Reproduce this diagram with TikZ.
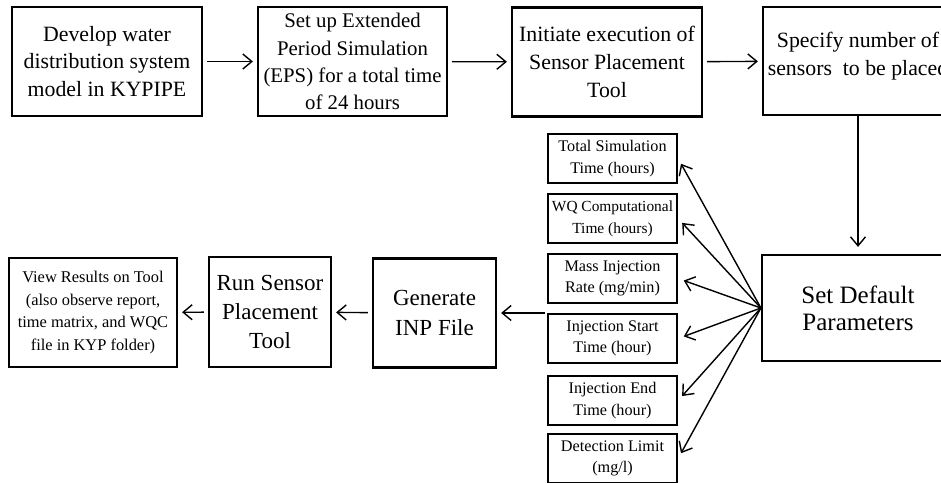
\documentclass[tikz,border=0pt]{standalone}
\usepackage{fontspec}
\setmainfont{Liberation Serif}
\usetikzlibrary{
  arrows.meta,
  positioning
}

\begin{document}
\begin{tikzpicture}[
    x=0.5pt, y=-0.5pt,
    >={Straight Barb[length=4.5pt,width=7.5pt]},
    caixa/.style={draw, line width=1.1pt, align=center, inner sep=1pt, fill=white},
    grande/.style={caixa, minimum width=95pt, minimum height=54.5pt,
      font=\fontsize{10.9}{13.8}\selectfont},
    media/.style={caixa, minimum width=61.5pt, minimum height=54.5pt,
      font=\fontsize{11.5}{14.6}\selectfont},
    param/.style={caixa, minimum width=64.5pt, minimum height=24.5pt,
      font=\fontsize{8.1}{10.8}\selectfont},
    seta/.style={->, line width=0.7pt, shorten <=2pt, shorten >=2pt}
    ]

    \useasboundingbox (0,0) rectangle (941,482);
    \clip (0,0) rectangle (941,482);

    % linha superior
    \node[grande] (modelo) at (107,61.5)
    {Develop water\\distribution system\\model in KYPIPE};

    \node[grande, minimum width=94.5pt,
      font=\fontsize{10.4}{13.6}\selectfont] (eps) at (352.5,61.5)
    {Set up Extended\\Period Simulation\\(EPS) for a total time\\of 24 hours};

    \node[grande] (inicia) at (607,62)
    {Initiate execution of\\Sensor Placement\\Tool};

    \node[grande, minimum height=54pt] (sensores) at (858,61)
    {Specify number of\\sensors\ \ to be placed\\[-6.5pt]{}};

    % parametros
    \node[grande, minimum width=96pt, minimum height=53pt,
      font=\fontsize{12.5}{13.5}\selectfont] (padrao) at (858,308)
    {Set Default\\Parameters};

    \node[param] (tsim) at (612.5,158.5)
    {Total Simulation\\Time (hours)};
    \node[param, font=\fontsize{7.7}{10.8}\selectfont] (wq) at (612.5,218.5)
    {WQ Computational\\Time (hours)};
    \node[param] (massa) at (612.5,278.5)
    {Mass Injection\\Rate (mg/min)};
    \node[param] (inicio) at (612.5,338.5)
    {Injection Start\\Time (hour)};
    \node[param] (fim) at (612.5,400.5)
    {Injection End\\Time (hour)};
    \node[param] (limite) at (612.5,458.5)
    {Detection Limit\\(mg/l)};

    \coordinate (entrada) at (545,313);

    % linha inferior
    \node[media] (inp) at (434.5,313)
    {Generate\\INP File};

    \node[media, minimum width=61pt, minimum height=55pt] (roda) at (270,312)
    {Run Sensor\\Placement\\Tool};

    \node[caixa, minimum width=84pt, minimum height=54.5pt,
      font=\fontsize{8.2}{11.2}\selectfont] (resultados) at (93,312.5)
    {View Results on Tool\\(also observe report,\\time matrix, and WQC\\file in KYP folder)};

    % setas
    \draw[seta] (modelo) -- (eps);
    \draw[seta] (eps) -- (inicia);
    \draw[seta] (inicia) -- (sensores);
    \draw[seta, shorten <=0pt, shorten >=3.5pt] (sensores) -- (padrao);

    \draw[seta, shorten <=0pt, shorten >=3pt] (padrao.west) -- (tsim.east);
    \draw[seta, shorten <=0pt, shorten >=3pt] (padrao.west) -- (wq.east);
    \draw[seta, shorten <=0pt, shorten >=3pt] (padrao.west) -- (massa.east);
    \draw[seta, shorten <=0pt, shorten >=3pt] (padrao.west) -- (inicio.east);
    \draw[seta, shorten <=0pt, shorten >=3pt] (padrao.west) -- (fim.east);
    \draw[seta, shorten <=0pt, shorten >=3pt] (padrao.west) -- (limite.east);

    \draw[seta, shorten <=0pt] (entrada) -- (inp);
    \draw[seta] (inp) -- (roda);
    \draw[seta] (roda) -- (resultados);

\end{tikzpicture}
\end{document}
